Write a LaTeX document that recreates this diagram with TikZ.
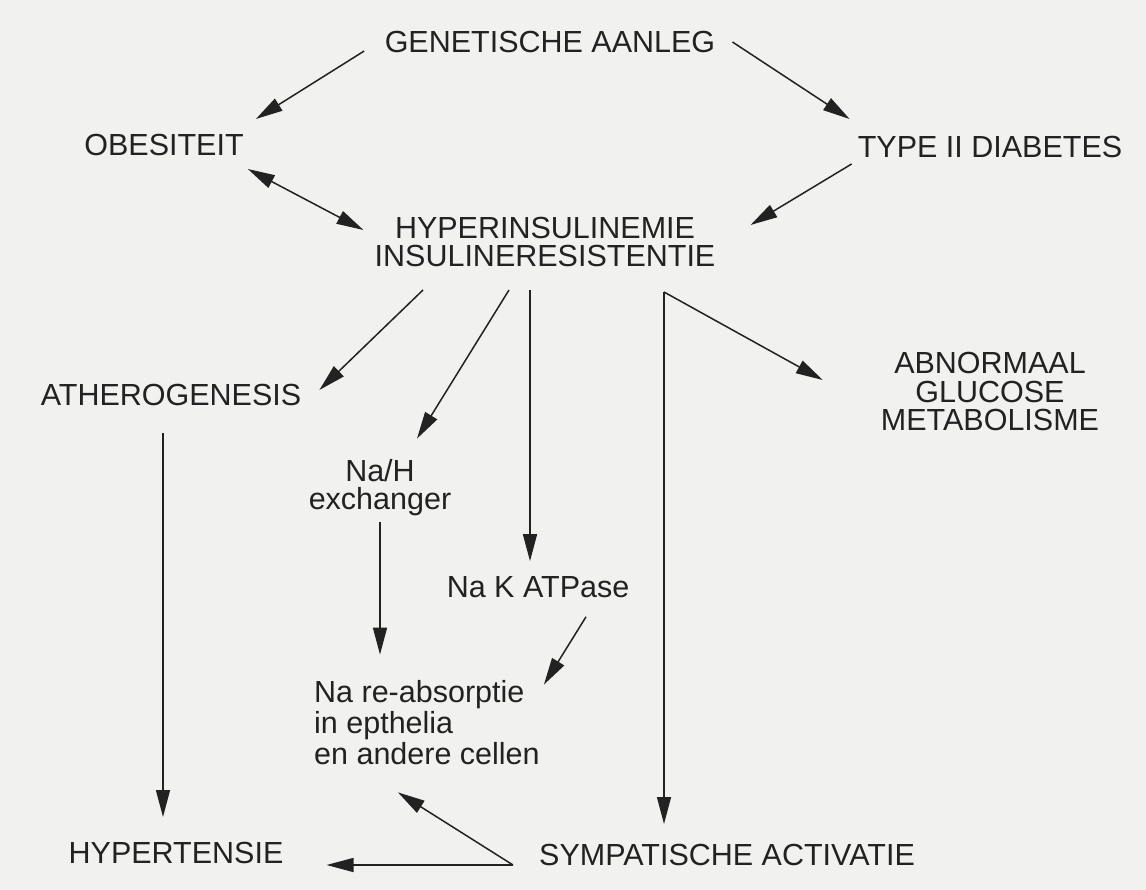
\documentclass[tikz,border=0pt]{standalone}
\usepackage{fontspec}
\setmainfont{Liberation Sans}
\usetikzlibrary{arrows.meta}
\definecolor{papier}{RGB}{241,241,240}
\definecolor{inkt}{RGB}{34,34,34}
\tikzset{
  tekst/.style={inner sep=6pt, text=inkt, align=center, font=\fontsize{30.5}{28}\selectfont},
  pijl/.style={draw=inkt, line width=1.5pt, -{Triangle[length=27pt,width=14pt]}},
  dpijl/.style={draw=inkt, line width=1.5pt, {Triangle[length=27pt,width=14pt]}-{Triangle[length=27pt,width=14pt]}},
}
\begin{document}
\begin{tikzpicture}[x=1pt,y=1pt] %Schema insulineresistentie
        \fill[papier] (0,0) rectangle (1146,-890);
        \useasboundingbox (0,0) rectangle (1146,-890);

        \coordinate (H1) at (423,-290);
        \coordinate (H2) at (509,-290);
        \coordinate (H3) at (530,-290);
        \coordinate (K) at (664,-292);
        \coordinate (A1) at (163,-433);
        \coordinate (S) at (513,-865);

        \node[tekst] (gen) at (550,-42) {GENETISCHE AANLEG};
        \node[tekst] (obes) at (164,-145) {OBESITEIT};
        \node[tekst] (type) at (990,-147) {TYPE II DIABETES};
        \node[tekst] (hyper) at (545,-242) {HYPERINSULINEMIE\\INSULINERESISTENTIE};
        \node[tekst] (athero) at (171,-395) {ATHEROGENESIS};
        \node[tekst, font=\fontsize{30.5}{28.5}\selectfont] (abn) at (990,-392) {ABNORMAAL\\GLUCOSE\\METABOLISME};
        \node[tekst] (nah) at (380,-488) {Na/H\\exchanger};
        \node[tekst] (nak) at (538,-587) {Na K ATPase};
        \node[tekst, align=left, anchor=west, font=\fontsize{30.5}{31}\selectfont] (nare) at (308,-723) {Na re-absorptie\\in epthelia\\en andere cellen};
        \node[tekst] (hyp) at (176,-853) {HYPERTENSIE};
        \node[tekst] (symp) at (727,-855) {SYMPATISCHE ACTIVATIE};

        \draw[pijl, shorten <=17pt] (gen.west) -- ([shift={(6,9)}]obes.north east);
        \draw[pijl] ([xshift=11pt]gen.east) -- ([shift={(-2,11)}]type.north west);
        \draw[dpijl] ([shift={(-2,-7)}]obes.south east) -- ([shift={(-5,12)}]hyper.west);
        \draw[pijl] (type.south west) -- ([shift={(29,17)}]hyper.east);

        \draw[pijl] (H1) -- ([shift={(12,5)}]athero.east);
        \draw[pijl] (H2) -- ([shift={(37,15)}]nah.north);
        \draw[pijl, shorten >=9pt] (H3) -- (H3 |- nak.north);
        \draw[pijl] (K) -- ([shift={(-52,12)}]abn.west);
        \draw[pijl, shorten >=14pt] (K) -- (K |- symp.north);

        \draw[pijl, shorten >=19pt] (A1) -- (A1 |- hyp.north);
        \draw[pijl, shorten >=20pt] (nah.south) -- (nah.south |- nare.north);
        \draw[pijl] ([shift={(48,-13)}]nak.south) -- ([shift={(-2,-10)}]nare.north east);
        \draw[pijl] (S) -- ([shift={(-29,-21)}]nare.south);
        \draw[pijl, shorten >=37pt] (S) -- (S -| hyp.east);
    \end{tikzpicture}
\end{document}
